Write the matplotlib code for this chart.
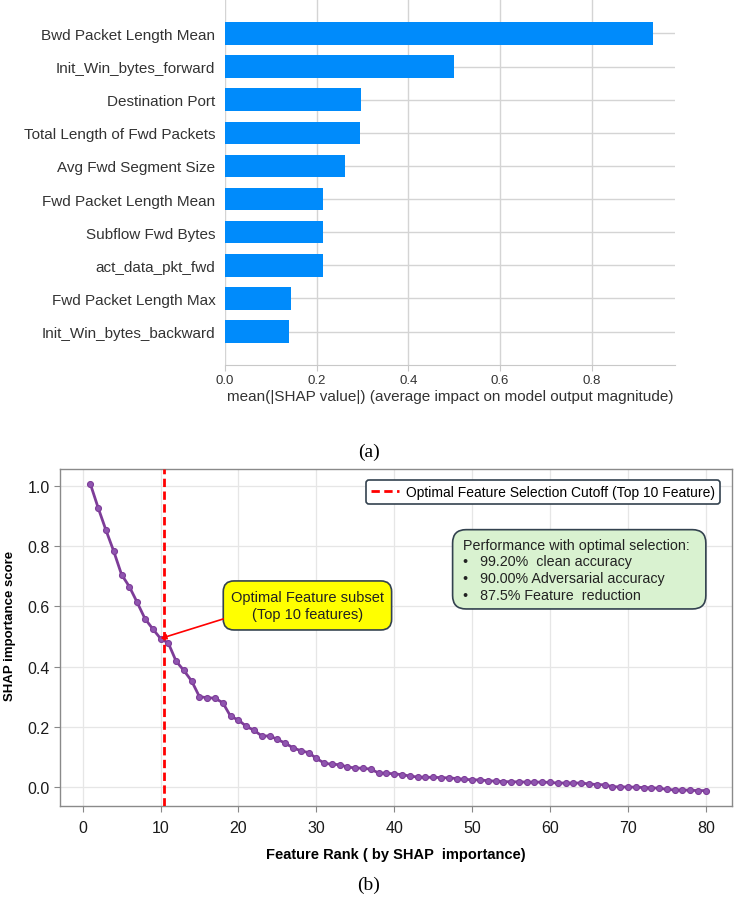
import matplotlib

matplotlib.use("Agg")

import matplotlib.pyplot as plt
from matplotlib.patches import FancyBboxPatch

plt.rcParams["font.family"] = ["Liberation Sans", "DejaVu Sans"]

# (a) mean |SHAP| per feature, top to bottom
features = [
    "Bwd Packet Length Mean",
    "Init_Win_bytes_forward",
    "Destination Port",
    "Total Length of Fwd Packets",
    "Avg Fwd Segment Size",
    "Fwd Packet Length Mean",
    "Subflow Fwd Bytes",
    "act_data_pkt_fwd",
    "Fwd Packet Length Max",
    "Init_Win_bytes_backward",
]
mean_shap = [0.934, 0.500, 0.297, 0.295, 0.261, 0.214, 0.213, 0.213, 0.143, 0.139]
bar_ticks = [0.0, 0.2, 0.4, 0.6, 0.8]

# (b) normalised SHAP importance by rank
ranks = list(range(1, 81))
scores = [
    1.005, 0.926, 0.852, 0.782, 0.705, 0.665, 0.613, 0.559, 0.525, 0.493,
    0.478, 0.418, 0.387, 0.352, 0.300, 0.297, 0.295, 0.280, 0.235, 0.223,
    0.202, 0.189, 0.170, 0.170, 0.159, 0.146, 0.131, 0.121, 0.115, 0.096,
    0.080, 0.076, 0.075, 0.067, 0.064, 0.063, 0.060, 0.047, 0.047, 0.044,
    0.042, 0.037, 0.034, 0.033, 0.033, 0.032, 0.031, 0.029, 0.026, 0.025,
    0.024, 0.022, 0.020, 0.019, 0.018, 0.018, 0.017, 0.017, 0.017, 0.016,
    0.014, 0.014, 0.014, 0.014, 0.011, 0.009, 0.008, 0.002, 0.001, 0.001,
    0.000, -0.001, -0.002, -0.003, -0.007, -0.009, -0.009, -0.010, -0.011, -0.011,
]
cutoff = 10.5
top_k = 10
perf_lines = [
    "Performance with optimal selection:",
    "\u2022   99.20%  clean accuracy",
    "\u2022   90.00% Adversarial accuracy",
    "\u2022   87.5% Feature  reduction",
]

fig = plt.figure(figsize=(7.38, 9.12), dpi=100)

# ---------- (a) bar chart ----------
ax1 = fig.add_axes([0.3049, 0.599, 0.6098, 0.3995])
ypos = list(range(len(features) - 1, -1, -1))
for y in ypos:
    ax1.axhline(y, color="#d4d4d4", lw=1.0, zorder=0)
ax1.barh(ypos, mean_shap, height=0.68, color="#008bfb", zorder=2)
ax1.set_yticks(ypos)
ax1.set_yticklabels(features, fontsize=11, color="#333333")
ax1.set_xticks(bar_ticks)
ax1.set_xticklabels([f"{t:.1f}" for t in bar_ticks], fontsize=9.5, color="#333333")
ax1.set_xlim(0, 0.982)
ax1.set_ylim(-1, 10)
ax1.xaxis.grid(True, color="#d4d4d4", lw=1.0, zorder=0)
ax1.set_axisbelow(True)
for s in ("top", "right", "left"):
    ax1.spines[s].set_visible(False)
ax1.spines["bottom"].set_color("#c8c8c8")
ax1.tick_params(axis="y", length=0, pad=7)
ax1.tick_params(axis="x", length=4, color="#c8c8c8", pad=3)
ax1.set_xlabel("mean(|SHAP value|) (average impact on model output magnitude)",
               fontsize=11, color="#333333", labelpad=2)

fig.text(0.5, 1 - 452 / 912, "(a)", ha="center", va="center",
         fontsize=14, family="Liberation Serif")

# ---------- (b) rank curve ----------
ax2 = fig.add_axes([0.0813, 0.1155, 0.910, 0.3692])
ax2.plot(ranks, scores, color="#7d3c98", lw=2, marker="o", markersize=4.3,
         markerfacecolor="#9056b0", markeredgecolor="#7d3c98", markeredgewidth=0.8,
         zorder=3)
ax2.axvline(cutoff, color="red", lw=2, linestyle=(0, (3, 1.6)), zorder=4,
            label="Optimal Feature Selection Cutoff (Top 10 Feature)")
ax2.set_xlim(-2.9, 83.3)
ax2.set_ylim(-0.061, 1.055)
ax2.set_xticks(range(0, 81, 10))
ax2.set_yticks([0.0, 0.2, 0.4, 0.6, 0.8, 1.0])
ax2.tick_params(labelsize=11.5, length=4, color="#888888", labelcolor="#1a1a1a")
ax2.tick_params(axis="x", pad=6)
ax2.grid(True, color="#e6e6e6", lw=0.9)
ax2.set_axisbelow(True)
for s in ax2.spines.values():
    s.set_color("#8a8a8a")
    s.set_linewidth(1.0)
ax2.set_xlabel("Feature Rank ( by SHAP  importance)", fontsize=10.5,
               fontweight="bold", labelpad=9)
ax2.set_ylabel("SHAP importance score", fontsize=9.5, fontweight="bold")
ax2.yaxis.set_label_coords(-0.0655, 0.537)

leg = ax2.legend(loc="upper right", bbox_to_anchor=(0.9826, 0.967), borderaxespad=0,
                 fontsize=10, fancybox=True, framealpha=1, edgecolor="#33424f",
                 handlelength=2.0, handletextpad=0.5, borderpad=0.35)
leg.get_frame().set_linewidth(1.2)

aspect = (0.3692 * 912) / (0.910 * 738)

# yellow callout
ybox = FancyBboxPatch((0.2431, 0.5218), 0.4938 - 0.2431, 0.6674 - 0.5218,
                      boxstyle="round,pad=0,rounding_size=0.016",
                      mutation_aspect=1 / aspect, transform=ax2.transAxes,
                      facecolor="#ffff00", edgecolor="#33424f", lw=1.2, zorder=5)
ax2.add_patch(ybox)
ax2.text(0.3685, 0.5946, "Optimal Feature subset\n(Top 10 features)",
         transform=ax2.transAxes, ha="center", va="center", fontsize=10.5,
         color="#222222", zorder=6, linespacing=1.25)
ax2.annotate("", xy=(top_k, scores[top_k - 1]), xycoords="data",
             xytext=(0.2431, 0.5545), textcoords="axes fraction",
             arrowprops=dict(arrowstyle="-|>", color="red", lw=1.2,
                             mutation_scale=8, shrinkA=0, shrinkB=0),
             zorder=5)

# green performance box
gbox = FancyBboxPatch((0.5846, 0.5842), 0.9617 - 0.5846, 0.8197 - 0.5842,
                      boxstyle="round,pad=0,rounding_size=0.02",
                      mutation_aspect=1 / aspect, transform=ax2.transAxes,
                      facecolor="#d9f2d0", edgecolor="#33424f", lw=1.2, zorder=5)
ax2.add_patch(gbox)
ax2.text(0.6004, 0.701, "\n".join(perf_lines), transform=ax2.transAxes,
         ha="left", va="center", fontsize=10.3, color="#222222", zorder=6,
         linespacing=1.25)

fig.text(0.5, 1 - 885 / 912, "(b)", ha="center", va="center",
         fontsize=14, family="Liberation Serif")

fig.savefig("out.png", dpi=100)
